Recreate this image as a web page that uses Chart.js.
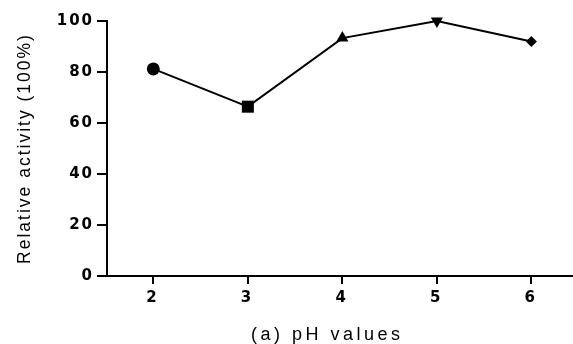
<!DOCTYPE html>
<html>
<head>
<meta charset="utf-8">
<script src="https://cdn.jsdelivr.net/npm/chart.js@4/dist/chart.umd.min.js"></script>
<style>
  html, body { margin: 0; padding: 0; background: #fff; overflow: hidden; }
  #wrap { width: 573px; height: 344px; }
</style>
</head>
<body>
<div id="wrap"><canvas id="chartPh" width="573" height="344"></canvas></div>
<script>
// pH values and relative activity
var phValues = [2, 3, 4, 5, 6];
var activity = [81.2, 66.4, 93.3, 100, 92];
var yTicks = [0, 20, 40, 60, 80, 100];
var markerStyles = ['circle', 'rect', 'triangle', 'triangle', 'rectRot'];
var markerTurns = [0, 0, 0, 180, 0];
var markerSizes = [6.5, 8.5, 7, 7, 5.5];

var points = phValues.map(function (p, i) { return { x: p, y: activity[i] }; });

// the old figure uses widely spaced lettering; y scale is drawn before the
// datasets, x scale after them, so each axis gets its own spacing
var spacing = {
    id: 'spacing',
    beforeUpdate: function (chart) { chart.ctx.letterSpacing = '2px'; },
    beforeDraw: function (chart) { chart.ctx.letterSpacing = '2px'; },
    beforeDatasetsDraw: function (chart) { chart.ctx.letterSpacing = '3.5px'; },
    afterDraw: function (chart) { chart.ctx.letterSpacing = '0px'; }
};

var tickFont = { family: '"DejaVu Sans"', size: 15, weight: 'bold' };

var ctx = document.getElementById('chartPh').getContext('2d');
var chart = new Chart(ctx, {
    type: 'scatter',
    plugins: [spacing],
    data: {
        datasets: [
            {
                label: 'Relative activity',
                data: points,
                showLine: true,
                clip: false,
                borderColor: '#000',
                borderWidth: 2,
                backgroundColor: '#000',
                pointStyle: markerStyles,
                rotation: markerTurns,
                pointRadius: markerSizes,
                pointBorderWidth: 0,
                pointBackgroundColor: '#000'
            }
        ]
    },
    options: {
        responsive: false,
        animation: false,
        layout: { autoPadding: false, padding: { top: 21, right: 0, left: 0, bottom: 0 } },
        plugins: {
            legend: { display: false },
            tooltip: { enabled: false }
        },
        scales: {
            x: {
                type: 'linear',
                min: 1.51,
                max: 6.44,
                afterBuildTicks: function (scale) {
                    scale.ticks = phValues.map(function (v) { return { value: v }; });
                },
                afterFit: function (scale) {
                    scale.height = 68;
                    scale.paddingLeft = 0;
                    scale.paddingRight = 0;
                },
                border: { display: true, color: '#000', width: 2, z: 1 },
                grid: { drawOnChartArea: false, drawTicks: true, tickLength: 8, color: '#000', lineWidth: 2, z: 1 },
                ticks: {
                    z: 1,
                    color: '#000',
                    padding: 5,
                    font: tickFont
                },
                title: {
                    display: true,
                    text: '(a) pH values   ',
                    color: '#000',
                    padding: { top: 0, bottom: -2 },
                    font: { family: 'Arial, "Liberation Sans"', size: 18 }
                }
            },
            y: {
                min: 0,
                max: 100,
                afterBuildTicks: function (scale) {
                    scale.ticks = yTicks.map(function (v) { return { value: v }; });
                },
                afterFit: function (scale) {
                    scale.width = 107;
                    scale.paddingTop = 0;
                    scale.paddingBottom = 0;
                },
                border: { display: true, color: '#000', width: 2 },
                grid: { drawOnChartArea: false, drawTicks: true, tickLength: 10, color: '#000', lineWidth: 2 },
                ticks: {
                    color: '#000',
                    padding: 3,
                    font: tickFont
                },
                title: {
                    display: true,
                    text: 'Relative activity (100%)',
                    color: '#000',
                    padding: { top: 15, bottom: 0 },
                    font: { family: 'Arial, "Liberation Sans"', size: 17.5 }
                }
            }
        }
    }
});
</script>
</body>
</html>
